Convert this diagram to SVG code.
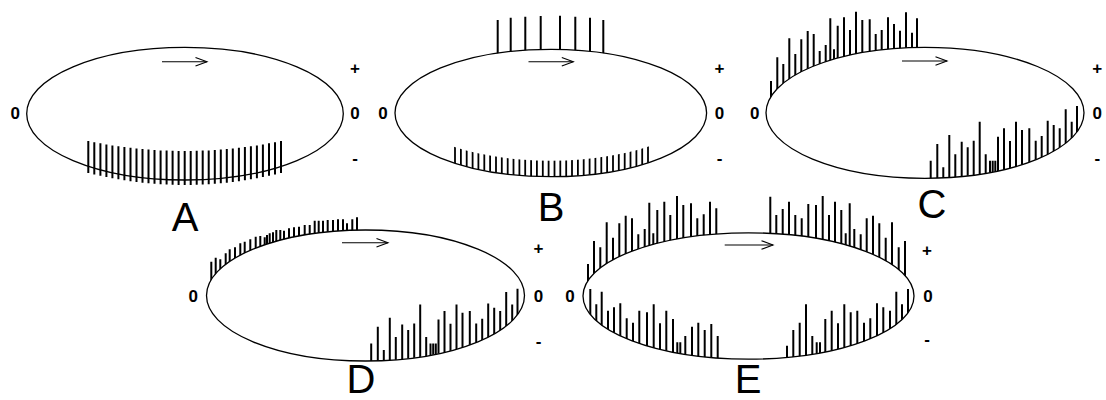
<svg xmlns="http://www.w3.org/2000/svg" xmlns:xlink="http://www.w3.org/1999/xlink" width="1106" height="400" viewBox="0 0 1106 400">
<style>
.ell{fill:#fff;stroke:#000;stroke-width:1.3}
.bar{stroke:#000;stroke-width:2;fill:none}
.thin{stroke-width:1.8}
.arr{stroke:#000;stroke-width:1.1;fill:none;marker-end:url(#ah)}
.lbl{font-family:"Liberation Sans",Arial,sans-serif;font-weight:bold;font-size:17px;text-anchor:middle;fill:#000}
.big{font-family:"Liberation Sans",Arial,sans-serif;font-size:40px;text-anchor:middle;fill:#000}
</style>
<defs>
<marker id="ah" markerUnits="userSpaceOnUse" markerWidth="14" markerHeight="11" refX="11.5" refY="4.3" orient="auto" overflow="visible">
<path d="M0,0 L11.5,4.3 L0,8.6" fill="none" stroke="#000" stroke-width="1.1"/>
</marker>
<clipPath id="clipB" clipPathUnits="userSpaceOnUse">
<path clip-rule="evenodd" d="M395,113 a155.8,63.7 0 1,0 311.6,0 a155.8,63.7 0 1,0 -311.6,0Z M395,97 a155.8,63.7 0 1,0 311.6,0 a155.8,63.7 0 1,0 -311.6,0Z"/>
</clipPath>
<clipPath id="clipC" clipPathUnits="userSpaceOnUse">
<ellipse cx="925" cy="112.8" rx="159" ry="65.5"/>
</clipPath>
<clipPath id="clipE" clipPathUnits="userSpaceOnUse">
<ellipse cx="748.5" cy="296" rx="165.5" ry="63.2"/>
</clipPath>
<g id="cbot" clip-path="url(#clipC)">
<path class="bar" d="M930.7 160.7V182M937.3 144V182M943.3 167.3V182M949.3 135V182M955.3 154.3V182M961.7 141.7V182M967.7 147.3V182M973.7 140.7V182M979.7 121.7V182M985.7 154.3V182M990 160.7V182M992.7 160.7V182M995.3 160.7V182M998 136.7V182M1004 128.3V182M1010 141V182M1016 121.7V182M1022 130V182M1029.3 128.3V182M1035.7 140.7V182M1041.7 136V182M1047.7 120.7V182M1053.7 125V182M1059.7 128.3V182M1065.7 109.3V182M1071.7 121.7V182M1077 106V182"/>
</g>
</defs>
<rect width="1106" height="400" fill="#fff"/>

<g id="panelA">
<ellipse class="ell" cx="185" cy="113.7" rx="158.3" ry="66.3"/>
<path class="bar" d="M88.3 141V173M94.3 142.2V174.5M100.4 143.3V175.8M106.4 144.4V177.1M112.4 145.4V178.3M118.4 146.3V179.3M124.4 147.1V180.3M130.5 147.8V181.2M136.5 148.5V182M142.5 149.1V182.7M148.5 149.6V183.3M154.5 150V183.8M160.6 150.4V184.3M166.6 150.6V184.6M172.6 150.8V184.8M178.6 151V185M184.7 151V185M190.7 151V185M196.7 150.8V184.8M202.7 150.6V184.6M208.7 150.4V184.3M214.8 150V183.8M220.8 149.6V183.3M226.8 149.1V182.7M232.8 148.5V182M238.9 147.8V181.2M244.9 147.1V180.3M250.9 146.3V179.3M256.9 145.4V178.3M262.9 144.4V177.1M269 143.3V175.8M275 142.2V174.5M281 141V173"/>
<line class="arr" x1="162" y1="61.7" x2="207" y2="61.7"/>
<text class="lbl" x="15.3" y="118.8">0</text>
<text class="lbl" x="355" y="73.7">+</text>
<text class="lbl" x="355" y="118.8">0</text>
<text class="lbl" x="355" y="164">-</text>
<text class="big" x="185" y="231">A</text>
</g>

<g id="panelB">
<path class="bar" d="M497.7 20V113M510.7 17.7V113M525.3 16.7V113M540.7 16V113M560 15.7V113M575.3 16.7V113M590 17.7V113M603.3 20V113"/>
<ellipse class="ell" cx="550.8" cy="113" rx="155.8" ry="63.7"/>
<g clip-path="url(#clipB)">
<path class="bar thin" d="M455 125V180M460.9 125V180M466.7 125V180M472.6 125V180M478.4 125V180M484.3 125V180M490.1 125V180M496 125V180M501.8 125V180M507.7 125V180M513.5 125V180M519.4 125V180M525.2 125V180M531.1 125V180M536.9 125V180M542.8 125V180M548.6 125V180M554.5 125V180M560.3 125V180M566.2 125V180M572 125V180M577.9 125V180M583.7 125V180M589.6 125V180M595.4 125V180M601.3 125V180M607.1 125V180M613 125V180M618.8 125V180M624.7 125V180M630.5 125V180M636.4 125V180M642.2 125V180M648 125V180"/>
</g>
<line class="arr" x1="528.5" y1="61.7" x2="573.3" y2="61.7"/>
<text class="lbl" x="383" y="118.8">0</text>
<text class="lbl" x="719.5" y="73.7">+</text>
<text class="lbl" x="719.5" y="118.8">0</text>
<text class="lbl" x="719.5" y="164">-</text>
<text class="big" x="551" y="221">B</text>
</g>

<g id="panelC">
<path class="bar" d="M771 81V112M777.3 57.3V112M783.3 64V112M789.3 38.3V112M795.3 54V112M801.3 39.3V112M807.7 31V112M813.7 34V112M819.7 51V112M825.7 45V112M830.3 18.3V112M834 49.3V112M837.7 25.7V112M844 17.3V112M850 30V112M856 11.7V112M862.3 20V112M869.7 19.3V112M875.7 34V112M881.7 30V112M888 17.3V112M894 24V112M900 30.7V112M906 12.3V112M912 32.7V112M917 18.3V112"/>
<ellipse class="ell" cx="925" cy="112.8" rx="159" ry="65.5"/>
<use xlink:href="#cbot" href="#cbot"/>
<line class="arr" x1="902" y1="61" x2="947" y2="61"/>
<text class="lbl" x="754.7" y="118.8">0</text>
<text class="lbl" x="1097.3" y="73.7">+</text>
<text class="lbl" x="1097.3" y="118.8">0</text>
<text class="lbl" x="1097.3" y="164">-</text>
<text class="big" x="932" y="218">C</text>
</g>

<g id="panelD">
<path class="bar" d="M211.3 261.7V295M215.7 257.7V295M220.3 259.3V295M225.7 253.3V295M229.7 249.3V295M235 247.3V295M240.3 243.3V295M244.7 241.7V295M250.3 239.3V295M255.7 236.7V295M260.3 236V295M264.7 237.3V295M267 235V295M269.7 233.3V295M273 232.3V295M276.3 230V295M280.3 230V295M284 230.7V295M289 228.3V295M294 227.3V295M299 226.7V295M304.7 225V295M309.7 225V295M314.7 220.7V295M318.7 220.7V295M323 220.7V295M327.7 220V295M333 220V295M338 219.3V295M343 219.3V295M347 223.3V295M352.3 219.3V295M357 217.3V295"/>
<ellipse class="ell" cx="365.5" cy="295.5" rx="159" ry="65.5"/>
<use xlink:href="#cbot" href="#cbot" transform="translate(-559.5 182.7)"/>
<line class="arr" x1="342" y1="242.7" x2="388" y2="242.7"/>
<text class="lbl" x="193.3" y="302">0</text>
<text class="lbl" x="538.5" y="254.3">+</text>
<text class="lbl" x="538.5" y="302">0</text>
<text class="lbl" x="538.5" y="346.5">-</text>
<text class="big" x="361" y="393">D</text>
</g>

<g id="panelE">
<path class="bar" d="M588 264V296M594 241V296M600.3 247.3V296M606.7 222.3V296M613 237.7V296M619.3 223.3V296M625.7 215.7V296M632 218.3V296M638.3 234.3V296M644.7 229V296M649.3 202.7V296M653.3 233.3V296M657.3 210V296M664.3 201.7V296M670.3 215V296M677 196V296M683.3 205V296M691 203.3V296M697.3 218.3V296M703.7 214.3V296M710 201.7V296M716.3 208.3V296M770.3 196.7V296M776.3 215V296M782.7 209V296M789 201.7V296M795.3 215V296M801.7 218.3V296M808.3 204V296M816 205V296M822.7 196V296M829 215V296M835 201.7V296M841.3 210V296M845.7 233.3V296M849.7 203.3V296M854.3 229V296M860.7 234.3V296M866.7 218.3V296M873 215.7V296M879.3 223.3V296M885.7 237.7V296M892 222.3V296M898.7 247.3V296M905 241V296"/>
<ellipse class="ell" cx="748.5" cy="296" rx="165.5" ry="63.2"/>
<g clip-path="url(#clipE)">
<path class="bar" d="M590.3 289V362M596.3 304.3V362M601.7 291.7V362M608 310.7V362M614 307.3V362M620.3 303.3V362M626.7 318.3V362M633 322.7V362M639.3 310.7V362M647 312.3V362M653.7 304.3V362M660 323.3V362M666.3 310.7V362M673 319V362M677.3 342.3V362M680.3 342.3V362M685.3 336V362M692 326.7V362M698.3 322.7V362M704.7 330V362M711.3 324V362M717.7 336V362M787 345.7V362M793.3 330V362M799.7 322.7V362M806 304.3V362M812.3 336V362M816.7 342.3V362M820 342.3V362M825.3 319V362M831.7 310.7V362M838 323.3V362M844.3 304.3V362M850.7 312.3V362M857.3 310.7V362M864 322.7V362M870.3 318.3V362M877 303.3V362M883.3 307.3V362M890 310.7V362M896.3 291.7V362M902 304.3V362M908 289V362"/>
</g>
<line class="arr" x1="724.7" y1="245" x2="773" y2="245"/>
<text class="lbl" x="570" y="302">0</text>
<text class="lbl" x="927" y="255.7">+</text>
<text class="lbl" x="928" y="302">0</text>
<text class="lbl" x="927" y="345">-</text>
<text class="big" x="748" y="393">E</text>
</g>
</svg>
